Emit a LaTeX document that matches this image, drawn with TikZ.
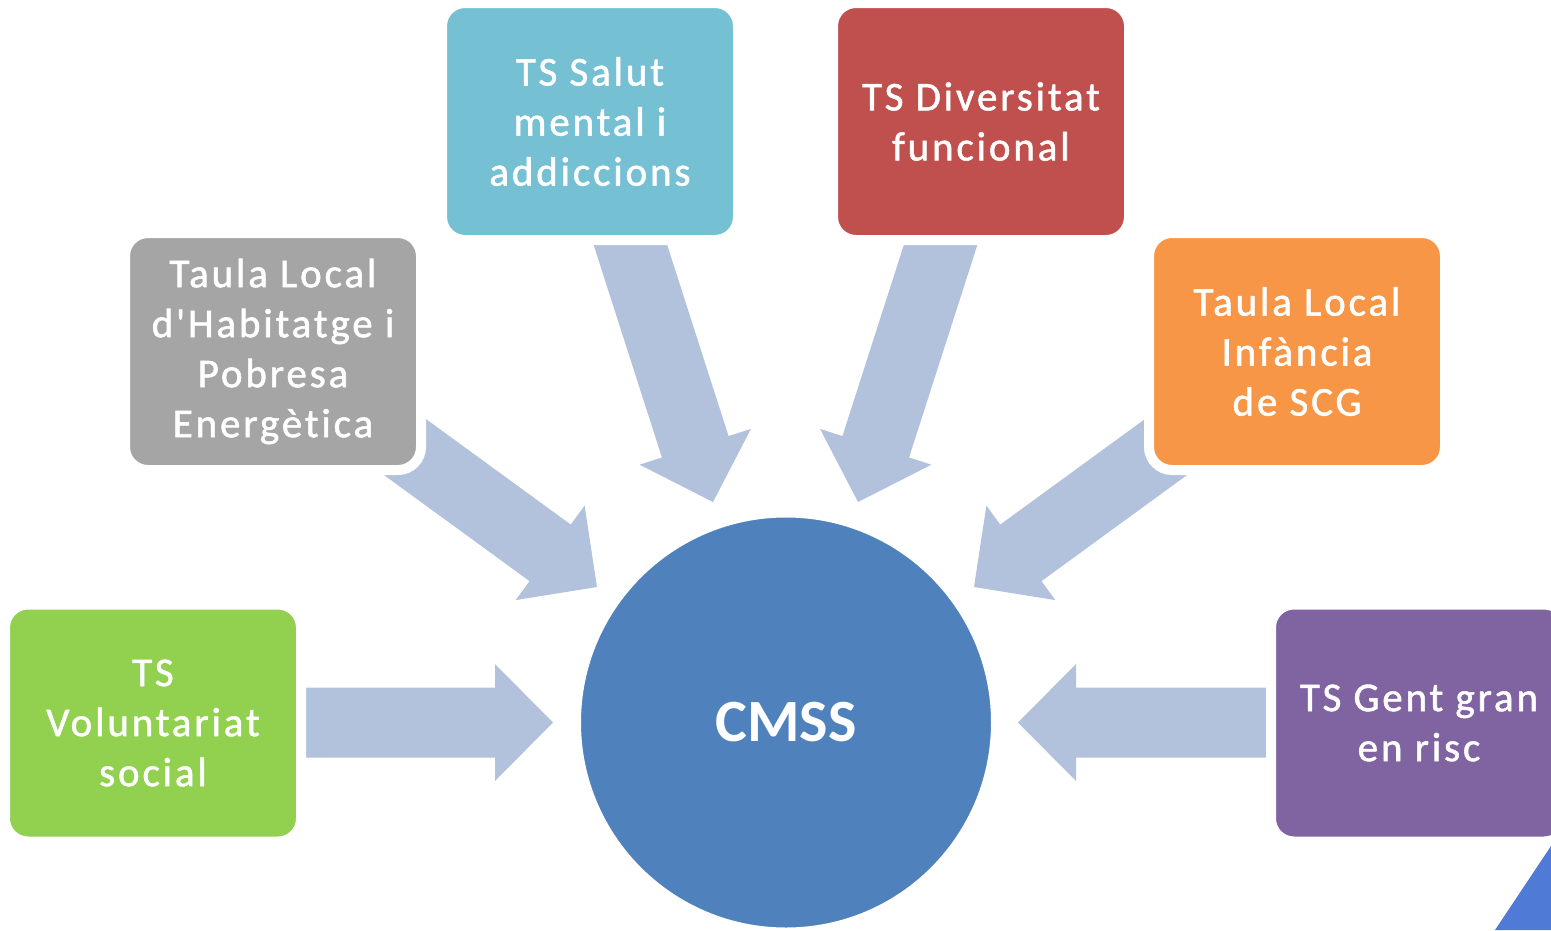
\documentclass[tikz,border=0pt]{standalone}
\usepackage{fontspec}
\setmainfont{Carlito}
\newfontfamily\boxfont[LetterSpace=7, FakeBold=1.3, Ligatures=NoCommon]{Carlito}
\usetikzlibrary{calc}
\definecolor{cgreen}{HTML}{92D050}
\definecolor{cgray}{HTML}{A5A5A5}
\definecolor{cblue}{HTML}{76C0D4}
\definecolor{cred}{HTML}{C0504D}
\definecolor{corange}{HTML}{F79646}
\definecolor{cpurple}{HTML}{8064A2}
\definecolor{ccircle}{HTML}{4F81BD}
\definecolor{carrow}{HTML}{B2C2DC}
\definecolor{ctri}{HTML}{4F7AD6}
\tikzset{
  card/.style={rounded corners=23pt, draw=white, line width=10pt,
    minimum width=296pt, minimum height=237pt, text=white, align=center,
    font=\boxfont\fontsize{41}{50}\selectfont, inner sep=0pt},
  hub/.style={circle, draw=white, line width=8pt, fill=ccircle,
    minimum size=418pt, text=white, font=\bfseries\fontsize{60}{60}\selectfont},
  arrowshape/.style={fill=carrow}
}
\newcommand\blockarrow[2]{%
  \coordinate (hb) at ($(#2)!58pt!(#1)$);
  \fill[arrowshape] ($(#1)!35pt!90:(#2)$) -- ($(hb)!35pt!90:(#2)$)
    -- ($(hb)!58.5pt!90:(#2)$) -- (#2) -- ($(hb)!58.5pt!-90:(#2)$)
    -- ($(hb)!35pt!-90:(#2)$) -- ($(#1)!35pt!-90:(#2)$) -- cycle;
}
\begin{document}
\begin{tikzpicture}[x=1pt,y=-1pt]
\useasboundingbox (0,0) rectangle (1551,930);
\clip (0,0) rectangle (1551,930);
% arrow end points
\coordinate (tL) at (302,722.5);   \coordinate (pL) at (553,722.5);
\coordinate (tR) at (1270,722.5);  \coordinate (pR) at (1018,722.5);
\coordinate (tGL) at (401.5,444.5);\coordinate (pGL) at (597,587);
\coordinate (tOR) at (1169.5,444.5);\coordinate (pOR) at (974,587);
\coordinate (tTL) at (624,225);    \coordinate (pTL) at (713,502);
\coordinate (tTR) at (947,225);    \coordinate (pTR) at (858,502);
\blockarrow{tL}{pL}
\blockarrow{tR}{pR}
\blockarrow{tGL}{pGL}
\blockarrow{tOR}{pOR}
\blockarrow{tTL}{pTL}
\blockarrow{tTR}{pTR}
% hub
\node[hub] (cmss) at (786,722.5) {CMSS};
% cards
\node[card, fill=cgreen] (vol) at (153,723) {TS\\Voluntariat\\social};
\node[card, fill=cgray] (hab) at (273,351.5) {Taula Local\\d'Habitatge i\\Pobresa\\Energètica};
\node[card, fill=cblue] (sal) at (590,121.5) {TS Salut\\mental i\\addiccions};
\node[card, fill=cred] (div) at (981,121.5) {TS Diversitat\\funcional};
\node[card, fill=corange] (inf) at (1297,351.5) {Taula Local\\Infància\\de SCG};
\node[card, fill=cpurple] (gent) at (1419,723) {TS Gent gran\\en risc};
% corner triangle
\fill[ctri] (1495,930) -- (1551,846) -- (1551,930) -- cycle;
\end{tikzpicture}
\end{document}
